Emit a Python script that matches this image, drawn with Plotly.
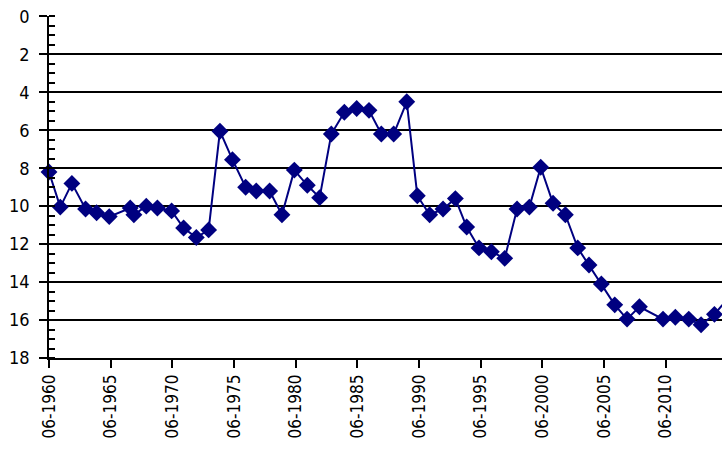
"""
Yearly series on an inverted scale (0 at top, 18 at bottom)
"""
import plotly.graph_objects as go

dates = [
    "1960-06-01", "1961-05-01", "1962-04-10", "1963-05-20", "1964-04-10",
    "1965-04-20", "1967-01-01", "1967-04-20", "1968-04-20", "1969-03-15",
    "1970-05-10", "1971-05-01", "1972-05-10", "1973-05-10", "1974-04-10",
    "1975-04-15", "1976-05-10", "1977-03-20", "1978-04-20", "1979-04-20",
    "1980-04-20", "1981-05-10", "1982-05-10", "1983-04-20", "1984-05-10",
    "1985-05-10", "1986-05-10", "1987-05-10", "1988-05-10", "1989-06-01",
    "1990-04-10", "1991-04-10", "1992-05-10", "1993-05-10", "1994-04-10",
    "1995-04-10", "1996-04-10", "1997-05-10", "1998-05-10", "1999-05-10",
    "2000-04-10", "2001-04-10", "2002-04-10", "2003-04-10", "2004-03-10",
    "2005-03-10", "2006-04-10", "2007-04-10", "2008-04-10", "2010-03-10",
    "2011-03-10", "2012-04-10", "2013-04-10", "2014-05-10", "2015-01-01",
]
values = [
    8.2, 10.05, 8.8, 10.15, 10.35, 10.55, 10.1, 10.45, 10.0, 10.1,
    10.25, 11.15, 11.65, 11.25, 6.05, 7.55, 9.0, 9.2, 9.2, 10.45,
    8.1, 8.9, 9.55, 6.2, 5.05, 4.85, 4.95, 6.2, 6.2, 4.5,
    9.45, 10.45, 10.15, 9.6, 11.1, 12.2, 12.4, 12.75, 10.15, 10.05,
    7.95, 9.85, 10.45, 12.2, 13.1, 14.1, 15.2, 15.95, 15.3, 15.95,
    15.85, 15.95, 16.25, 15.7, 15.2,
]

# x ticks every 5 years, labelled month-year
tick_years = list(range(1960, 2015, 5))
tick_dates = [f"{y}-06-01" for y in tick_years]
tick_text = [f"06-{y}" for y in tick_years]

y_ticks = list(range(0, 19, 2))

NAVY = "#000080"
FONT = "DejaVu Sans Condensed, Liberation Sans Narrow, sans-serif"

fig = go.Figure(go.Scatter(
    x=dates, y=values,
    mode="lines+markers",
    line=dict(color=NAVY, width=2),
    marker=dict(symbol="diamond", size=13, color=NAVY),
    cliponaxis=False,
))

fig.update_layout(
    width=722, height=449,
    margin=dict(l=49, r=0, t=16, b=91),
    paper_bgcolor="white",
    plot_bgcolor="white",
    showlegend=False,
    font=dict(family=FONT, color="black", size=17),
)

fig.update_xaxes(
    type="date",
    automargin=False,
    range=["1960-06-01", "2014-12-20"],
    tickmode="array",
    tickvals=tick_dates,
    ticktext=tick_text,
    tickangle=-90,
    ticks="outside", ticklen=8, tickwidth=1.5, tickcolor="black",
    showline=True, linecolor="black", linewidth=1.5,
    showgrid=False, zeroline=False,
    tickfont=dict(size=17),
)

fig.update_yaxes(
    automargin=False,
    range=[18, -0.02],
    tickmode="array",
    tickvals=y_ticks,
    ticks="outside", ticklen=8, tickwidth=1.5, tickcolor="black",
    ticklabelstandoff=6,
    ticklabeloverflow="allow",
    minor=dict(ticks="inside", dtick=0.5, ticklen=6, tickwidth=1.5,
               tickcolor="black", showgrid=False),
    showline=True, linecolor="black", linewidth=1.5,
    showgrid=True, gridcolor="black", gridwidth=1.5,
    zeroline=False,
    tickfont=dict(size=18),
)

# drop the browser's default body margin so the figure sits at the page corner
fig.write_html(
    "out.html",
    config={"displayModeBar": False},
    post_script="document.body.style.margin = '0'; document.body.style.overflow = 'hidden';",
)
